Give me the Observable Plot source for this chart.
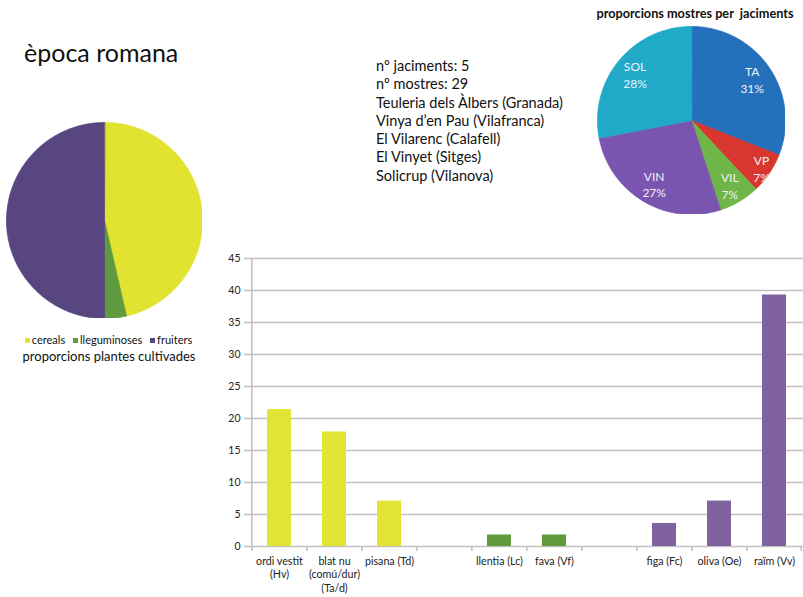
<!DOCTYPE html>
<html><head><meta charset="utf-8">
<script src="https://cdn.jsdelivr.net/npm/d3@7"></script>
<script src="https://cdn.jsdelivr.net/npm/@observablehq/plot@0.6"></script>
<style>
body{margin:0;background:#fff;font-family:Lato,"Open Sans",sans-serif;color:#111;}
#page{position:relative;width:803px;height:597px;overflow:hidden;background:#fff;}
.abs{position:absolute;}
.abs svg{display:block;}
#title{left:24px;top:37px;font-size:25px;line-height:30px;}
#info{left:376px;top:57px;font-size:14.5px;line-height:18.3px;white-space:pre;}
#pieTitle{left:580px;width:230px;top:4px;text-align:center;font-weight:bold;font-size:12.7px;line-height:18px;white-space:pre;}
#legend{left:0;width:212px;top:332px;font-size:11px;line-height:15px;text-align:center;white-space:nowrap;}
#legend span.sw{display:inline-block;width:5px;height:5px;margin:0 2px 1px 5px;vertical-align:middle;}
#caption{left:0;width:218px;top:347px;font-size:13px;line-height:18px;text-align:center;}
</style></head><body><div id="page"></div>
<script>
// ---- data ----
const titleText = "època romana";
const infoLines = ["nº jaciments: 5", "nº mostres: 29", "Teuleria dels Àlbers (Granada)", "Vinya d’en Pau (Vilafranca)", "El Vilarenc (Calafell)", "El Vinyet (Sitges)", "Solicrup (Vilanova)"];

const cropGroups = ["cereals", "lleguminoses", "fruiters"];
const cropShares = [46.4, 3.6, 50.0];
const cropPieColors = ["#e2e330", "#5f9a3e", "#574680"];
const cropBarColors = ["#e3e536", "#5f9b3b", "#8062a1"];

const siteNames = ["TA", "VP", "VIL", "VIN", "SOL"];
const sitePercents = [31, 7, 7, 27, 28];
const siteColors = ["#2470bb", "#d8372f", "#6fb548", "#7a55b0", "#20aac8"];
const sitePieTitle = "proporcions mostres per  jaciments";

const barSlots = ["Hv", "Ta/d", "Td", "gap1", "Lc", "Vf", "gap2", "Fc", "Oe", "Vv"];
const barLabels = ["ordi vestit\n(Hv)", "blat nu\n(comú/dur)\n(Ta/d)", "pisana (Td)", "", "llentia (Lc)", "fava (Vf)", "", "figa (Fc)", "oliva (Oe)", "raïm (Vv)"];
const barValues = [21.4, 17.9, 7.1, null, 1.8, 1.8, null, 3.6, 7.1, 39.3];
const barGroups = ["cereals", "cereals", "cereals", null, "lleguminoses", "lleguminoses", null, "fruiters", "fruiters", "fruiters"];
const yTicks = [0, 5, 10, 15, 20, 25, 30, 35, 40, 45];

// ---- helpers ----
const page = document.getElementById("page");
function place(el, left, top) {
  const d = document.createElement("div");
  d.className = "abs"; d.style.left = left + "px"; d.style.top = top + "px";
  d.appendChild(el); page.appendChild(d); return d;
}
function addText(id, html) {
  const d = document.createElement("div"); d.className = "abs"; d.id = id; d.innerHTML = html; page.appendChild(d); return d;
}

function pieChart(labels, values, colors, size, labelSpec) {
  const arcs = d3.pie().sort(null)(values);
  const pts = [];
  arcs.forEach((a, i) => {
    const n = Math.max(2, Math.ceil((a.endAngle - a.startAngle) / 0.01));
    pts.push({k: labels[i], x: 0, y: 0});
    for (let j = 0; j <= n; j++) {
      const t = a.startAngle + (a.endAngle - a.startAngle) * j / n;
      pts.push({k: labels[i], x: Math.sin(t), y: Math.cos(t)});
    }
  });
  const marks = [Plot.line(pts, {x: "x", y: "y", z: "k", fill: "k", stroke: "k", strokeWidth: 0.8, curve: "linear-closed"})];
  if (labelSpec) {
    const lab = arcs.map((a, i) => {
      const m = (a.startAngle + a.endAngle) / 2, r = labelSpec.radius[i];
      return {x: Math.sin(m) * r, y: Math.cos(m) * r, t: labels[i] + "\n" + values[i] + "%"};
    });
    marks.push(Plot.text(lab, {x: "x", y: "y", text: "t", fill: "#eef3f8", fontSize: 12, lineHeight: 1.4}));
  }
  return Plot.plot({
    width: size, height: size, margin: 0,
    style: {fontFamily: "Lato, sans-serif", background: "transparent"},
    x: {domain: [-1, 1], axis: null, label: null}, y: {domain: [-1, 1], axis: null, label: null},
    color: {domain: labels, range: colors},
    marks
  });
}

// ---- title & info ----
addText("title", titleText);
addText("info", infoLines.join("\n"));
addText("pieTitle", sitePieTitle);

// ---- crop pie (left) ----
place(pieChart(cropGroups, cropShares, cropPieColors, 196, null), 6, 121.5);
addText("legend", cropGroups.map((g, i) => `<span class="sw" style="background:${cropPieColors[i]}"></span>${g}`).join(" "));
addText("caption", "proporcions plantes cultivades");

// ---- site pie (top right) ----
place(pieChart(siteNames, sitePercents, siteColors, 188, {radius: [0.78, 0.9, 0.8, 0.78, 0.78]}), 596.5, 25.5);

// ---- bar chart ----
const barData = barSlots.map((s, i) => ({slot: s, value: barValues[i], group: barGroups[i]})).filter(d => d.value != null);
const bw = 603, bml = 49, bmr = 0;
const step = (bw - bml - bmr) / barSlots.length;
const grid = "#c6c1c1";
const bars = Plot.plot({
  width: bw, height: 357, marginLeft: bml, marginRight: bmr, marginTop: 18, marginBottom: 51,
  style: {fontFamily: "Lato, sans-serif", fontSize: "10px", background: "transparent", overflow: "visible"},
  x: {domain: barSlots, paddingInner: 0.57, paddingOuter: 0.285, axis: null, label: null},
  y: {domain: [0, 45], axis: null, label: null},
  color: {domain: cropGroups, range: cropBarColors},
  marks: [
    Plot.ruleY(yTicks, {stroke: grid, strokeWidth: 1.6}),
    Plot.axisY({ticks: yTicks, tickSize: 5, tickPadding: 4, stroke: grid, strokeWidth: 1.6, fill: "#222", fontSize: 10.5, label: null}),
    Plot.ruleX([barSlots[0]], {dx: -step / 2, y1: -0.8, y2: 45, stroke: grid, strokeWidth: 1.6}),
    Plot.ruleX(barSlots, {dx: -step / 2, y1: 0, y2: -0.8, stroke: grid, strokeWidth: 1.6}),
    Plot.ruleX([barSlots[barSlots.length - 1]], {dx: step / 2 - 1, y1: 0, y2: -0.8, stroke: grid, strokeWidth: 1.6}),
    Plot.barY(barData, {x: "slot", y: "value", fill: "group"}),
    Plot.axisX({tickSize: 0, tickPadding: 9, tickFormat: (d) => barLabels[barSlots.indexOf(d)], fontSize: 10.7, lineHeight: 1.25, fill: "#222", label: null})
  ]
});
place(bars, 200, 240);
</script></body></html>
